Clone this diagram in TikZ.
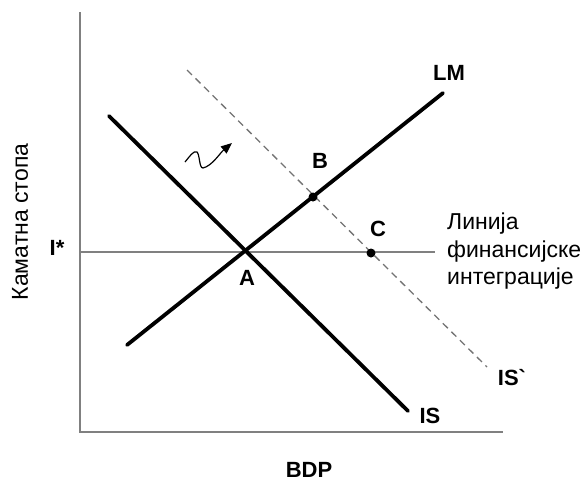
\documentclass[tikz,border=0pt]{standalone}
\usepackage{fontspec}
\setmainfont{Liberation Sans}
\newfontfamily\gravefont{Liberation Sans}[Ligatures=TeXOff]
\usetikzlibrary{arrows.meta}
\begin{document}
\begin{tikzpicture}[x=1pt,y=-1pt,
  axisline/.style={draw=black!50,line width=2pt},
  refline/.style={draw=black!50,line width=1.6pt},
  curve/.style={draw=black,line width=3.8pt,line cap=round},
  shifted/.style={draw=black!55,line width=1.3pt,dash pattern=on 7pt off 5pt},
  lbl/.style={font=\fontsize{22}{26}\selectfont\bfseries,inner sep=0pt,anchor=base},
  txt/.style={font=\fontsize{23}{27.5}\selectfont,inner sep=0pt},
  dot/.style={circle,fill=black,inner sep=0pt,minimum size=9pt}]
\useasboundingbox (0,0) rectangle (582,483);
% axes
\coordinate (O) at (80,432);
\coordinate (Ytop) at (80,12);
\coordinate (Xend) at (503,432);
\draw[axisline] (Ytop) -- (O) -- (Xend);
% financial integration line
\coordinate (H0) at (80,252);
\coordinate (H1) at (435,252);
\draw[refline] (H0) -- (H1);
% IS' dashed
\coordinate (ISp0) at (187,70);
\coordinate (ISp1) at (487,367);
\draw[shifted] (ISp0) -- (ISp1);
% IS
\coordinate (IS0) at (109,116);
\coordinate (IS1) at (408,411);
\draw[curve] (IS0) -- (IS1);
% LM
\coordinate (LM0) at (127,345);
\coordinate (LM1) at (443,93);
\draw[curve] (LM0) -- (LM1);
% points
\node[dot] (B) at (313,197) {};
\node[dot] (C) at (371,253) {};
% squiggle arrow
\coordinate (sq0) at (185,162);
\coordinate (sq1) at (232,143);
\draw[line width=1.2pt,-{Triangle[length=11pt,width=9pt]}] (sq0) .. controls (190,156) and (194,150) .. (197,152) .. controls (200,155) and (199,168) .. (203,168) .. controls (212,166) and (220,153) .. (sq1);
% labels
\node[lbl] (lLM) at (449,80) {LM};
\node[lbl] (lA) at (247,285) {A};
\node[lbl] (lB) at (320,168) {B};
\node[lbl] (lC) at (378,236) {C};
\node[lbl] (lIS) at (430,423) {IS};
\node[lbl] (lISp) at (512,385) {\gravefont IS`};
\node[lbl] (lI) at (57,255) {I*};
\node[lbl] (lBDP) at (309,477) {BDP};
\node[txt,anchor=north west,align=left] (lfin) at (447,213) {Линија\\финансијске\\интеграције};
\node[txt,rotate=90,anchor=center] (ly) at (20,222) {Каматна стопа};
\end{tikzpicture}
\end{document}
